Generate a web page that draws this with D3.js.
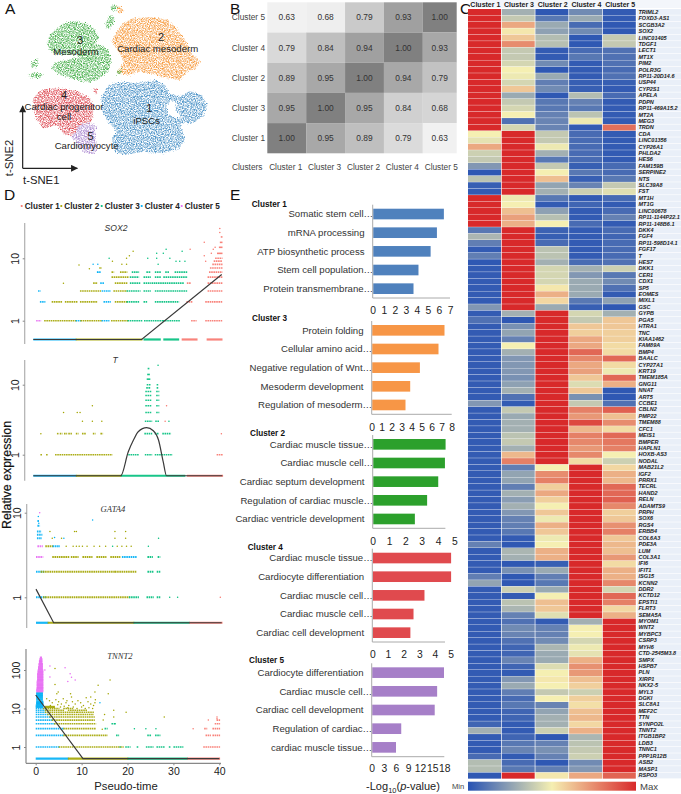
<!DOCTYPE html>
<html><head><meta charset="utf-8">
<script src="https://cdn.jsdelivr.net/npm/d3@7"></script>
<style>
html,body{margin:0;padding:0;background:#fff}
svg{display:block;font-family:"Liberation Sans",Arial,sans-serif}
</style></head><body>
<svg id="fig" width="681" height="794"></svg>
<script>
/* ---------- Panel A: t-SNE cluster outlines ---------- */
const tsneGreen=[[[168,88],[190,70],[225,62],[258,70],[285,90],[298,112],[285,132],[305,135],[325,150],[335,180],[325,212],[300,235],[272,248],[230,240],[180,225],[155,205],[165,188],[200,180],[240,172],[225,165],[190,165],[165,162],[148,150],[140,130],[150,105]],
 [[92,187],[115,175],[110,200],[95,205]],[[85,225],[105,215],[130,225],[115,235],[90,232]],[[315,72],[330,45],[345,55],[332,85],[320,85]],[[330,15],[350,18],[345,35],[335,30]],[[348,215],[362,208],[365,222],[350,225]]];
const tsneOrange=[[[345,100],[370,70],[400,55],[450,52],[500,58],[530,85],[555,120],[575,160],[600,185],[590,205],[560,215],[540,240],[500,235],[460,222],[420,215],[385,225],[350,220],[370,185],[355,150],[335,125]],[[350,18],[368,22],[370,36],[355,42]]];
const tsneBlue=[[[305,290],[325,255],[365,245],[410,250],[465,240],[495,255],[510,280],[540,290],[570,272],[605,285],[622,315],[610,350],[570,372],[545,365],[545,390],[555,415],[540,445],[490,460],[430,455],[375,465],[345,455],[335,415],[350,395],[320,360],[305,325]],
 [[512,300],[530,305],[526,328],[545,350],[535,358],[505,342],[498,322]]];
const tsneRed=[[[100,295],[125,268],[175,265],[230,272],[270,295],[282,320],[275,365],[240,375],[215,410],[190,400],[170,375],[130,385],[110,360],[100,330]],[[275,265],[295,265],[288,285]]];
const tsnePurple=[[[240,375],[265,368],[290,378],[285,410],[295,445],[280,462],[255,458],[235,440],[215,412]]];
const tsneNotes=[["3",240,120,11],["Mesoderm",228,155,9.6],["2",483,112,11],["Cardiac mesoderm",473,146,9.6],["4",192,285,11],["Cardiac progenitor",192,320,9.6],["cell",192,350,9.6],["1",448,325,11],["iPSCs",440,362,9.6],["5",272,407,11],["Cardiomyocyte",260,438,9.6]];

/* ---------- Panel B: correlation ---------- */
const corrRows=["Cluster 5","Cluster 4","Cluster 2","Cluster 3","Cluster 1"];
const corrCols=["Cluster 1","Cluster 3","Cluster 2","Cluster 4","Cluster 5"];
const corrValues=[[0.63,0.68,0.79,0.93,1.00],[0.79,0.84,0.94,1.00,0.93],[0.89,0.95,1.00,0.94,0.79],[0.95,1.00,0.95,0.84,0.68],[1.00,0.95,0.89,0.79,0.63]];
const corrShade=[[0.62,0.64,0.85,0.96,1],[0.79,0.89,0.96,1,0.95],[0.89,0.95,1,0.95,0.88],[0.95,1,0.95,0.83,0.81],[1,0.95,0.89,0.78,0.62]];

/* ---------- Panel C: heatmap ---------- */
const heatCols=["Cluster 1","Cluster 3","Cluster 2","Cluster 4","Cluster 5"];
const geneLabels=["TRIML2","FOXD3-AS1","SCGB3A2","SOX2","LINC01405","TDGF1","LECT1","MT1X","PIM2","POLR3G","RP11-20D14.6","USP44","CYP2S1","APELA","PDPN","RP11-469A15.2","MT2A","MEG3","TRDN","CDA","LINC01356","CYP26A1","PHLDA2","HES6","FAM159B","SERPINE2","NTS","SLC39A8","FST","MT1H","MT1G","LINC00678","RP11-1144P22.1","RP11-148B6.1","DKK4","FGF4","RP11-598D14.1","FGF17","T","HES7","DKK1","CER1","CDX1","SP5","EOMES","MIXL1","GSC","GYPB","PGA5","HTRA1","TNC","KIAA1462","FAM89A","BMP4","BAALC","CYP27A1","KRT19","TMEM185A","GNG11","NNAT","ART5","CCBE1","CBLN2","PMP22","TMEM88","CFC1","MEIS1","BMPER","HAPLN1","HOXB-AS3","NODAL","MAB21L2","IGF2","PRRX1","TECRL","HAND2","RELN","ADAMTS9","PRPH","SOX6","RGS4","ERBB4","COL6A3","PDE3A","LUM","COL3A1","IFI6","IFIT1","ISG15","KCNN2","DDR2","KCTD12","EPSTI1","FLRT3","SEMA5A","MYOM1","WNT2","MYBPC3","CSRP3","MYH6","CTD-2545M3.8","SMPX","HSPB7","PLN","XIRP1","NKX2-5","MYL3","DGKI","SLC8A1","MEF2C","TTN","SYNPO2L","TNNT2","ITGB1BP2","LDB3","TNNC1","PPP1R12B","ASB2","MASP1","RSPO3"];
const heatValues=[
[100,30,2,18,3],[100,38,12,28,3],[100,68,28,8,2],[100,52,25,18,2],[100,60,34,2,38],[100,75,35,2,38],[100,38,3,8,10],[100,38,3,12,10],[100,42,18,3,10],[100,50,2,3,8],[100,48,28,3,10],[100,42,14,4,4],[100,60,18,4,3],[100,28,2,34,8],[100,38,12,15,3],[100,42,12,12,3],[100,50,15,36,3],[100,10,16,48,3],[100,42,16,3,82],
[50,100,38,8,3],[46,100,38,8,3],[68,100,48,8,3],[40,100,30,8,3],[38,100,12,8,3],[22,100,38,4,8],[2,100,50,12,8],[36,100,62,4,12],[4,100,26,16,38],[3,100,30,40,45],
[100,48,12,3,8],[100,50,3,6,3],[100,62,25,3,8],[100,70,35,3,15],[100,66,50,8,3],
[12,100,5,3,8],[32,100,4,3,6],[14,100,8,3,8],[3,100,36,3,8],[14,100,36,3,8],[2,100,30,8,10],[3,100,42,30,40],[3,100,42,22,12],[3,100,42,28,18],[3,100,52,28,10],[3,100,66,28,3],[3,100,56,12,25],[22,100,28,4,2],
[3,30,100,42,30],[10,2,100,38,60],[3,20,100,60,60],[3,26,100,58,58],[3,15,100,68,58],[3,50,100,68,55],[3,30,100,84,55],[3,22,100,76,84],[3,22,100,68,55],[3,22,100,70,48],[3,20,100,60,84],[3,25,100,44,66],[3,30,100,60,2],
[3,10,100,20,2],[22,3,100,38,10],[3,38,100,78,86],[3,28,100,72,62],[3,30,100,92,75],[3,30,100,64,55],[3,36,100,78,84],[3,38,100,76,80],[3,30,100,72,78],[3,64,100,76,50],[3,78,100,55,40],
[3,14,50,100,56],[3,26,75,100,66],[3,26,78,100,64],[3,14,58,100,84],[3,30,68,100,84],[3,24,58,100,86],[3,30,50,100,76],[3,22,60,100,58],[3,15,48,100,60],[3,14,66,100,74],[3,12,60,100,78],[3,3,48,100,60],[15,2,50,100,64],[3,32,66,100,62],[3,30,66,100,72],[3,2,4,100,55],[3,20,28,100,66],[14,2,14,100,66],[26,2,12,100,76],[3,40,28,100,42],
[3,3,50,100,84],[3,36,62,100,78],[3,32,60,100,56],[3,15,45,100,66],
[3,10,3,30,100],[3,18,15,50,100],[3,16,15,50,100],[3,10,18,42,100],[3,6,32,48,100],[3,6,28,46,100],[3,16,28,66,100],[3,6,44,74,100],[3,3,50,72,100],[3,22,52,62,100],[3,28,50,58,100],[3,14,38,40,100],[3,8,50,58,100],[3,12,16,54,100],[3,6,26,62,100],[3,6,30,64,100],[6,3,30,56,100],[30,3,40,66,100],[3,6,2,32,100],[3,12,15,36,100],[3,16,20,38,100],[8,3,15,40,100],[34,8,2,18,100],[34,12,14,22,100],[2,100,52,68,85]];

/* ---------- Panel D: expression over pseudo-time. strips = [value, tFrom, tTo, cluster]; points = [t, value, cluster] ---------- */
const dClusters=["Cluster 1","Cluster 2","Cluster 3","Cluster 4","Cluster 5"];
const sox2Strips=[[.5,0,9,3],[.5,9,23,1],[.5,23.4,26.9,2],[.5,27.6,30.8,2],[.5,31.5,34.7,0],[.5,36.8,40,0],
[1,.6,1.5,4],[1,2.3,9,1],[1,9,10,3],[1,10,14.5,1],[1,14.5,16,3],[1,16.5,20,1],[1,20,23,2],[1,23.5,27.5,2],[1,27.5,31,2],[1,33.5,34.5,0],[1,36.5,40,0],
[2,1.4,2.4,3],[2,3.9,6,1],[2,6.7,9.2,1],[2,9.9,13.5,1],[2,14.9,16.3,3],[2,17.3,19.8,1],[2,19.8,22.3,2],[2,23.4,24,2],[2,25.8,30.8,2],[2,32.5,33.6,0],[2,36.5,40,0],
[3,1,1.4,3],[3,9.9,14.2,1],[3,14.5,16.3,3],[3,17,19.8,1],[3,19.8,22.6,2],[3,23.4,24.8,2],[3,25.8,32.5,2],[3,37,40,0],
[4,12.7,13.5,1],[4,14.2,14.9,3],[4,17.3,19.8,1],[4,20.5,22.6,2],[4,23.4,24.8,2],[4,25.1,25.8,2],[4,26,31.9,2],[4,32.6,33.3,0],[4,37,40,0],
[5,16.6,20.2,1],[5,20.5,22.3,2],[5,23.4,24.8,2],[5,25.8,26.9,2],[5,27.6,32.6,2],[5,37,40,0],
[6,13.5,14.2,3],[6,16.6,17,1],[6,18.4,19.8,1],[6,20.9,22.3,2],[6,24,24.8,2],[6,25.8,26.9,2],[6,28,28.7,2],[6,30,32.6,2],[6,37.3,40,0],
[7,14,14.4,1],[7,37.5,40,0],[8,38,40,0],[9,38.3,40,0],[10,38.6,40,0],[12,39,40,0],[15,39.4,40,0],[18,39.6,40,0],[22,39.8,40,0]];
const sox2Points=[[6.4,4,1],[9.7,7.8,1],[11.9,6.8,1],[12.7,8,3],[13.7,8,3],[13.7,6,3],[16.1,10,2],[16.8,9,1],[18.8,8,1],[19.8,8,1],[19.8,10,1],[20.4,11,1],[21.2,13,1],[24.3,10,2],[26.2,12,2],[26.2,10,2],[27.6,12,2],[28.2,14,2],[26.5,8,2],[29,10,2],[30.3,9,2],[31.1,9,2],[32.2,9,2],[31.6,13,2],[33.3,14,0],[36.3,18,0],[36.3,11,0],[38.2,14,0],[37.8,12,0],[38.6,15,0],[36.6,9,0],[39.6,30,0],[39.6,26,0]];
const tStrips=[[.5,0,9,3],[.5,9,18.5,1],[.5,18.5,32,2],[.5,32.5,40,0],
[1,1.5,1.7,1],[1,2.7,3,1],[1,4.6,16.6,1],[1,20.1,22.2,2],[1,23.6,25,2],[1,25.7,29.3,2],[1,38.8,40,0],
[2,5,5.2,1],[2,5.6,6,1],[2,6.5,7,1],[2,7.4,8,1],[2,9,9.4,1],[2,10.3,11,1],[2,12.6,13,1],[2,14.2,14.6,1],[2,23.5,25,2],[2,25.7,26.4,2],[2,27.3,29,2],
[3,23.6,25,2],[3,25.8,26.5,2],[4,23.7,24.9,2],[4,26,26.5,2],[5,23.7,24.9,2],[5,26,26.5,2],[6,23.7,24.9,2],[6,26,26.5,2],[7,23.7,24.9,2],[7,26,26.5,2],[8,23.7,24.9,2],[8,26,26.5,2],[9,23.9,24.7,2],[9,26.1,26.4,2],[10,24,24.7,2],[10,26.1,26.4,2],[12,24,24.6,2],[14,24.1,24.5,2],[17,24.2,24.4,2]];
const tPoints=[[1.6,2,1],[39.8,2,0],[10.4,3,1],[12.5,3,1],[14.5,3,1],[27.9,3,0],[28.7,3,2],[6.4,4,1],[9.3,4,1],[9.9,4,1],[12.5,5,1],[28.2,5,0],[26.4,19,2]];
const gata4Strips=[[.5,0,2.5,3],[.5,2.5,21,1],[.5,21,33,2],[.5,33,40,0],
[1,0,2,3],[1,1.5,20,1],[1,20,22,2],[1,23.8,25.2,2],[1,26,26.6,2],
[2,0,1.6,3],[2,1,17,1],[2,17,21.5,1],[2,24,25.2,2],[2,26,26.6,2],
[3,0,1.4,4],[3,3.5,7,1],[3,7.5,9,1],[3,10,12,1],[3,13,15,1],[3,16,18,1],[3,18.5,21.5,3],[3,24,25,2],[3,26.2,26.6,2],
[4,.3,1.3,4],[4,2,3.5,1],[4,3.6,5,3],[5.5,.2,1.2,3],[5,.2,1.1,3],[6,.2,1,3],[7,.3,.7,3],[8,.3,.6,3]];
const gata4Points=[[.8,10,4],[.5,9,3],[.6,7.5,3],[3,6,1],[8.3,6,1],[8.7,6,1],[17,6,1],[19.3,6,1],[17,5,1],[19.3,5,1],[3.5,5,1],[4,5.1,3],[5.5,5,1],[6,5,3],[12.2,8.2,3],[6.5,4,1],[8,4,1],[8.7,4,1],[9.3,4,1],[10,4,1],[11,4,1],[12.5,4,1],[13.7,4,1],[15,4,1],[16.5,4,2],[17.5,4,1],[18.5,4,1],[19.5,4,1],[20.5,4,1],[24.2,4,2],[26.4,5,2],[28.8,1,2],[30.5,1,2],[39.7,1,0]];
const tnnt2Strips=[[.5,0,7,3],[.5,7,20,1],[.5,20,33,2],[.5,33,40,0],
[1,0,5,3],[1,5,19,1],[1,19.5,20.5,2],[1,22,22.3,2],[1,24,25.5,2],[1,26.3,28,2],[1,29,29.3,2],[1,30,32,2],[1,36.5,40,0],
[2,0,6,3],[2,6,15.5,1],[2,17.5,18,2],[2,24.3,25,2],[2,26,27,2],[2,37,38,0],[2,38.5,40,0],
[3,0,6,3],[3,6,13,1],[3,15,15.5,2],[3,36.7,37.2,0],[3,38.5,40,0],
[4,0,4,3],[4,4,13,1],[4,16.5,17.3,2],[4,39,40,0],[5,0,3.5,3],[5,3.5,12.7,1],[5,39.4,40,0],[6,0,3,3],[6,3,12.7,1],[7,0,2.5,3],[7,2.5,12.5,1],
[8,0,2,3],[8,2,9,1],[8,9,12.5,1],[9,0,2,3],[9,2,6,1],[9,7,11,1],[10,0,1.6,3],[10,1.6,5,1],[10,6,8,1],
[11,0,1.5,3],[11,2,4,1],[12,0,1.5,3],[13,.1,1.5,3],[14,.1,1.5,3],[15,.1,1.5,3],[17,.1,1.4,3],[19,.1,1.4,3],[21,.1,1.4,3],[23,.1,1.4,3],[25,.1,1.4,3],
[28,.1,1.5,4],[31,.1,1.5,4],[34,.2,1.5,4],[37,.2,1.5,4],[41,.2,1.5,4],[45,.2,1.5,4],[50,.2,1.5,4],[55,.3,1.5,4],[60,.3,1.5,4],[66,.3,1.5,4],[73,.3,1.5,4],[80,.3,1.5,4],[88,.4,1.5,4],[97,.4,1.5,4],[107,.5,1.4,4],[118,.5,1.4,4],[130,.6,1.4,4],[143,.6,1.4,4],[157,.7,1.3,4],[172,.7,1.3,4],[190,.8,1.3,4],[210,.9,1.2,4]];
const tnnt2Points=[[3.1,127,4],[2,100,4],[3.1,66,4],[4.2,110,1],[6.4,115,4],[7.5,80,4],[7.8,65,4],[8.6,55,4],[7,50,4],[13.6,40,1],[16.2,55,1],[15.8,24,1],[12.9,27,1],[4.2,42,1],[4.9,27,1],[4.6,24,1],[2.4,18,1],[6.8,16,1],[7.8,20,1],[7.6,24,1],[11,19,1],[12,20,1],[13,17,1],[3,16,1],[3.6,14,1],[4.4,17,1],[5,15,1],[5.6,13,1],[6,18,1],[6.6,14,1],[7.2,12,1],[8,15,1],[8.6,13,1],[9.2,16,1],[9.8,14,1],[10.4,12,1],[11.4,15,1],[12,13,1],[12.6,12,1],[3.2,12,1],[4,11,1],[4.8,12.5,1],[5.4,11,1],[6.2,11.5,1],[7,10.5,1],[8.2,11,1],[9,10,1],[10,11,1],[10.8,10,1],[11.6,10.5,1],[12.4,10,1],[12.9,14,1],[14,14,3],[17,9,1],[19.7,8,1],[17,6,1],[28,6,1],[15,7,1],[14.7,5,1],[17.3,4,2],[21.5,3,2],[24,3,2],[26.2,3,2],[34.3,3,0],[37.6,5,0],[39.5,6,0],[39.5,5.4,0],[18.4,1,2],[14.5,2.9,1]];
const sox2Line=[[0,.5],[23,.5],[40,5.5]];
const tLine=[[0,.5],[18.5,.5],[20.1,1.1],[21.2,1.62],[22.2,2.13],[24,2.43],[25.4,2.2],[26.5,1.62],[27.5,.79],[28.2,.5],[40,.5]];
const gata4Line=[[0,1.25],[3.8,.5],[40,.5]];
const tnnt2Line=[[0,22.4],[10.3,.5],[40,.5]];

/* ---------- Panel E: enrichment ---------- */
const e1Terms=["Somatic stem cell…","mRNA processing","ATP biosynthetic process","Stem cell population…","Protein transmembrane…"], e1Values=[6.4,5.77,5.2,4.1,3.65], e1Ticks=[0,1,2,3,4,5,6,7];
const e3Terms=["Protein folding","Cellular amino acid…","Negative regulation of Wnt…","Mesoderm development","Regulation of mesoderm…"], e3Values=[7.23,6.63,4.77,3.8,3.33], e3Ticks=[0,1,2,3,4,5,6,7,8];
const e2Terms=["Cardiac muscle tissue…","Cardiac muscle cell…","Cardiac septum development","Regulation of cardiac muscle…","Cardiac ventricle development"], e2Values=[4.43,4.39,3.98,3.3,2.55], e2Ticks=[0,1,2,3,4,5];
const e4Terms=["Cardiac muscle tissue…","Cardiocyte differentiation","Cardiac muscle cell…","Cardiac muscle cell…","Cardiac cell development"], e4Values=[5,5,3.3,2.6,2.4], e4Ticks=[0,1,2,3,4,5];
const e5Terms=["Cardiocyte differentiation","Cardiac muscle cell…","Cardiac cell development","Regulation of cardiac…","cardiac muscle tissue…"], e5Values=[17.8,16.1,15.5,7.2,5.9], e5Ticks=[0,3,6,9,12,15,18];

/* ================= drawing ================= */
const svg=d3.select("#fig");
const defs=svg.append("defs");
const TXT="#222";
function letter(s,x,y){svg.append("text").attr("x",x).attr("y",y).attr("font-size",15.5).attr("fill","#111").text(s);}
letter("A",5,14);letter("B",230,14);letter("C",460,14);letter("D",4,200);letter("E",230,200);

/* ---- A ---- */
const f=defs.append("filter").attr("id","mottle").attr("x","-5%").attr("y","-5%").attr("width","110%").attr("height","110%").attr("color-interpolation-filters","sRGB");
f.append("feTurbulence").attr("type","fractalNoise").attr("baseFrequency",0.85).attr("numOctaves",2).attr("seed",7).attr("result","n");
f.append("feDisplacementMap").attr("in","SourceGraphic").attr("in2","n").attr("scale",5).attr("xChannelSelector","G").attr("yChannelSelector","B").attr("result","d");
f.append("feColorMatrix").attr("in","n").attr("type","matrix").attr("values","0 0 0 0 0  0 0 0 0 0  0 0 0 0 0  2.6 0 0 0 -0.85").attr("result","a");
f.append("feComposite").attr("in","d").attr("in2","a").attr("operator","in").attr("result","c");
f.append("feGaussianBlur").attr("in","c").attr("stdDeviation",0.35);
const ax=d3.scaleLinear().domain([0,690]).range([0,230]), ay=d3.scaleLinear().domain([0,600]).range([0,200]);
const outline=d3.line().x(d=>ax(d[0])).y(d=>ay(d[1])).curve(d3.curveLinearClosed);
const gA=svg.append("g");
[[tsneBlue,"#3a88c2"],[tsneOrange,"#f6902a"],[tsneGreen,"#36a83a"],[tsneRed,"#da3a44"],[tsnePurple,"#a27ccb"]].forEach(([polys,c])=>{
  gA.append("path").attr("d",polys.map(p=>outline(p)).join("")).attr("fill",c).attr("fill-rule","evenodd").attr("filter","url(#mottle)").attr("opacity",.88);
});
gA.selectAll("text.note").data(tsneNotes).join("text").attr("x",d=>ax(d[1])).attr("y",d=>ay(d[2])).attr("dy","0.35em").attr("text-anchor","middle").attr("font-size",d=>d[3]).attr("fill",TXT).text(d=>d[0]);
defs.append("marker").attr("id","arr").attr("viewBox","0 0 10 10").attr("refX",9).attr("refY",5).attr("markerWidth",9).attr("markerHeight",7).attr("markerUnits","userSpaceOnUse").attr("orient","auto").append("path").attr("d","M0,0L10,5L0,10Z").attr("fill","#222");
gA.append("line").attr("x1",ax(68)).attr("y1",ay(505)).attr("x2",ax(68)).attr("y2",ay(318)).attr("stroke","#222").attr("stroke-width",1.2).attr("marker-end","url(#arr)");
gA.append("line").attr("x1",ax(68)).attr("y1",ay(505)).attr("x2",ax(232)).attr("y2",ay(505)).attr("stroke","#222").attr("stroke-width",1.2).attr("marker-end","url(#arr)");
svg.append("text").attr("x",23).attr("y",184).attr("font-size",11.3).attr("fill",TXT).text("t-SNE1");
svg.append("text").attr("transform","translate(13,158) rotate(-90)").attr("text-anchor","middle").attr("font-size",11.3).attr("fill",TXT).text("t-SNE2");

/* ---- B ---- */
const bx=d3.scaleBand().domain(corrCols).range([267.3,461.7]);
const by=d3.scaleBand().domain(corrRows).range([2.3,153.3]);
const bRight=456.7;
const bShade=d3.scaleLinear().domain([.6,.8,.9,.95,1]).range(["#f4f4f4","#d8d8d8","#bcbcbc","#a8a8a8","#808080"]);
const gB=svg.append("g");
corrRows.forEach((r,i)=>corrCols.forEach((c,j)=>{
  const x0=bx(c), x1=Math.min(bRight,x0+bx.bandwidth());
  gB.append("rect").attr("x",x0).attr("y",by(r)).attr("width",x1-x0).attr("height",by.bandwidth()).attr("fill",bShade(corrShade[i][j]));
  gB.append("text").attr("x",(x0+x1)/2).attr("y",by(r)+by.bandwidth()/2).attr("dy","0.35em").attr("text-anchor","middle").attr("font-size",8.4).attr("fill","#333").text(corrValues[i][j].toFixed(2));
}));
gB.selectAll("text.r").data(corrRows).join("text").attr("x",265).attr("y",d=>by(d)+by.bandwidth()/2).attr("dy","0.35em").attr("text-anchor","end").attr("font-size",8.3).attr("fill","#444").text(d=>d);
gB.selectAll("text.c").data(corrCols).join("text").attr("x",d=>Math.min(bx(d)+bx.bandwidth()/2-1,441.7)).attr("y",167).attr("dy","0.35em").attr("text-anchor","middle").attr("font-size",8.3).attr("fill","#444").text(d=>d);
gB.append("text").attr("x",232).attr("y",167).attr("dy","0.35em").attr("font-size",8.3).attr("fill","#444").text("Clusters");

/* ---- C ---- */
const hx=d3.scaleBand().domain(heatCols).range([468,636.5]);
const hy=d3.scaleBand().domain(d3.range(heatValues.length)).range([9,779]);
const hc=d3.scaleLinear().domain([0,50,100]).range(["#2752b3","#f5efb2","#d8292a"]);
const gC=svg.append("g");
gC.append("rect").attr("x",470).attr("y",0).attr("width",211).attr("height",8).attr("fill","#f3f6fb");
const gl=d3.scalePoint().domain(d3.range(geneLabels.length)).range([12,775]);
gC.selectAll("rect.lb").data(d3.range(heatValues.length)).join("rect").attr("x",637).attr("width",44).attr("y",i=>hy(i)).attr("height",hy.bandwidth()-.6).attr("fill","#e9eff8");
heatValues.forEach((row,i)=>row.forEach((v,j)=>{
  gC.append("rect").attr("x",hx(heatCols[j])).attr("y",hy(i)).attr("width",hx.bandwidth()-.7).attr("height",hy.bandwidth()-.35).attr("fill",hc(v));
}));
gC.selectAll("text.g").data(geneLabels).join("text").attr("x",638.5).attr("y",(d,i)=>gl(i)).attr("dy","0.35em").attr("font-size",5.5).attr("font-weight","bold").attr("font-style","italic").attr("fill","#222").text(d=>d);
gC.selectAll("text.h").data(heatCols).join("text").attr("x",d=>hx(d)+hx.bandwidth()/2+.5).attr("y",4.5).attr("dy","0.35em").attr("text-anchor","middle").attr("font-size",7).attr("font-weight","bold").attr("fill","#222").text(d=>d);
const lg=defs.append("linearGradient").attr("id","hg");
lg.selectAll("stop").data([0,25,50,75,100]).join("stop").attr("offset",d=>d+"%").attr("stop-color",d=>hc(d));
gC.append("rect").attr("x",468).attr("y",781.7).attr("width",168).attr("height",9).attr("fill","url(#hg)");
gC.append("text").attr("x",452).attr("y",789).attr("font-size",7.6).attr("fill","#444").text("Min");
gC.append("text").attr("x",640).attr("y",790).attr("font-size",9.6).attr("fill","#444").text("Max");

/* ---- D ---- */
const dColors=["#F8766D","#A3A500","#00BF7D","#00B0F6","#E76BF3"];
const legendX=[24.7,64.3,104.7,144.7,184.7];
dClusters.forEach((c,i)=>{
  svg.append("circle").attr("cx",legendX[i]-3).attr("cy",206).attr("r",1.1).attr("fill",dColors[i]);
  svg.append("text").attr("x",legendX[i]).attr("y",206).attr("dy","0.35em").attr("font-size",8.2).attr("font-weight","bold").attr("fill","#222").text(c);
});
function genePanel(o){
  const x=d3.scaleLinear().domain([0,40]).range(o.xr);
  const y=d3.scaleLog().domain(o.yd).range(o.yr);
  const g=svg.append("g");
  const solid=d=>d[0]===.5||d[0]>=11;
  g.selectAll("line.s").data(o.strips).join("line")
   .attr("x1",d=>x(d[1])).attr("x2",d=>x(d[2])+.8).attr("y1",d=>y(d[0])).attr("y2",d=>y(d[0]))
   .attr("stroke",d=>dColors[d[3]]).attr("stroke-width",d=>d[0]===.5?2.2:(d[0]>=11?(o.dense||1.6):(o.sw||1.6))).attr("stroke-dasharray",d=>solid(d)?null:"1.6 .6").attr("opacity",.9);
  g.selectAll("circle").data(o.points).join("circle").attr("cx",d=>x(d[0])).attr("cy",d=>y(d[1])).attr("r",.75).attr("fill",d=>dColors[d[2]]);
  const lineGen=d3.line().x(d=>x(d[0])).y(d=>y(d[1])).curve(o.curve||d3.curveLinear);
  g.append("path").attr("d",lineGen(o.line)).attr("fill","none").attr("stroke","#3a3a3a").attr("stroke-width",1.2);
  const ya=g.append("g").attr("transform",`translate(${o.ax},0)`).call(d3.axisLeft(y).tickValues(o.ticks).tickFormat(d3.format("d")).tickSize(2));
  ya.select(".domain").attr("d",`M0,${o.ay[0]}V${o.ay[1]}`).attr("stroke",o.acol||"#b0b0b0").attr("stroke-width",1.2);
  ya.selectAll(".tick line").attr("stroke","#888");
  ya.selectAll(".tick text").attr("font-size",10.5).attr("font-family","Liberation Sans").attr("fill","#222").attr("transform","rotate(-90)").attr("x",0).attr("y",-6).attr("text-anchor","middle").attr("dy",0);
  g.append("text").attr("x",o.title[1]).attr("y",o.title[2]).attr("dy","0.35em").attr("text-anchor","middle").attr("font-size",8.6).attr("font-style","italic").attr("font-family",o.title[3]).attr("fill","#333").text(o.title[0]);
  return {g,x,y};
}
const sansI="Liberation Sans", serifI="Liberation Serif";
genePanel({strips:sox2Strips,points:sox2Points,line:sox2Line,xr:[33.3,221.7],yd:[1,10],yr:[320.7,258.3],ticks:[1,10],ax:24.7,ay:[223,344],title:["SOX2",116,228,sansI]});
genePanel({strips:tStrips,points:tPoints,line:tLine,curve:d3.curveMonotoneX,xr:[33.3,222.3],yd:[1,10],yr:[454.7,384.7],ticks:[1,10],ax:24.7,ay:[360,480.7],title:["T",115,360,sansI]});
genePanel({strips:gata4Strips,points:gata4Points,line:gata4Line,sw:2,xr:[36,221.7],yd:[1,10],yr:[597.3,512.7],ticks:[1,10],ax:26.7,ay:[504,628],title:["GATA4",113,509,serifI]});
const pT=genePanel({strips:tnnt2Strips,points:tnnt2Points,line:tnnt2Line,dense:2.2,xr:[35.7,219.3],yd:[1,100],yr:[747,670],ticks:[1,10,100],ax:26,ay:[649,763.3],acol:"#888",title:["TNNT2",120,656,serifI]});
const xaT=pT.g.append("g").attr("transform","translate(0,763.3)").call(d3.axisBottom(pT.x).tickValues([0,10,20,30,40]).tickSize(2).tickPadding(2));
xaT.select(".domain").attr("d","M26,0H221").attr("stroke","#888").attr("stroke-width",1.2);
xaT.selectAll(".tick line").attr("stroke","#888");
xaT.selectAll(".tick text").attr("font-size",10.5).attr("font-family","Liberation Sans").attr("fill","#222");
svg.append("text").attr("x",126).attr("y",786).attr("dy","0.35em").attr("text-anchor","middle").attr("font-size",11.3).attr("fill",TXT).text("Pseudo-time");
svg.append("text").attr("transform","translate(11,475) rotate(-90)").attr("text-anchor","middle").attr("font-size",12.4).attr("stroke","#111").attr("stroke-width",.2).attr("fill","#111").text("Relative expression");

/* ---- E ---- */
function enrich(o){
  const x=d3.scaleLinear().domain([0,o.max]).range([o.x0,o.x0+o.w]);
  const y=d3.scaleBand().domain(d3.range(o.terms.length)).range([o.y0,o.y1]).paddingInner(.43).paddingOuter(.215);
  const g=svg.append("g");
  g.append("text").attr("x",o.tx).attr("y",o.ty).attr("dy","0.35em").attr("font-size",8.2).attr("font-weight","bold").attr("fill","#111").text(o.name);
  g.selectAll("rect").data(o.values).join("rect").attr("x",o.x0+.5).attr("y",(d,i)=>y(i)).attr("width",d=>x(d)-o.x0).attr("height",y.bandwidth()).attr("fill",o.color);
  g.selectAll("text.l").data(o.terms).join("text").attr("x",d=>d.endsWith("…")?o.x0+.5:o.x0-8.2).attr("y",(d,i)=>y(i)+y.bandwidth()/2).attr("dy","0.35em").attr("text-anchor","end").attr("font-size",9.6).attr("fill","#333").text(d=>d);
  const xa=g.append("g").attr("transform",`translate(0,${o.y1})`).call(d3.axisBottom(x).tickValues(o.ticks).tickFormat(d3.format("d")).tickSize(0).tickPadding(o.pad||9));
  xa.select(".domain").attr("d",`M${o.x0},0H${o.x0+o.axw}`).attr("stroke","#aaa").attr("stroke-width",1);
  xa.selectAll(".tick text").attr("font-size",10.3).attr("font-family","Liberation Sans").attr("fill","#222");
  g.append("line").attr("x1",o.x0).attr("x2",o.x0).attr("y1",o.y0).attr("y2",o.y1).attr("stroke","#aaa").attr("stroke-width",1);
}
enrich({name:"Cluster 1",tx:251.7,ty:204,terms:e1Terms,values:e1Values,ticks:e1Ticks,max:7,x0:372.7,w:77.3,axw:77.3,y0:204.7,y1:298,color:"#4f81bd"});
enrich({name:"Cluster 3",tx:252,ty:317.7,terms:e3Terms,values:e3Values,ticks:e3Ticks,max:8,x0:371.7,w:80,axw:80,y0:321,y1:414.3,color:"#f79646"});
enrich({name:"Cluster 2",tx:250,ty:433,terms:e2Terms,values:e2Values,ticks:e2Ticks,max:5,x0:372.7,w:81.7,axw:72.7,y0:435,y1:528.3,color:"#2ca02c"});
enrich({name:"Cluster 4",tx:247.7,ty:547,terms:e4Terms,values:e4Values,ticks:e4Ticks,max:5,x0:372.3,w:78.3,axw:72.7,y0:548.7,y1:642,color:"#e04a4e"});
enrich({name:"Cluster 5",tx:249,ty:660,terms:e5Terms,values:e5Values,ticks:e5Ticks,max:18,x0:371.7,w:72.6,axw:72.6,y0:663.3,y1:756.7,color:"#a67fc8",pad:8});
const et=svg.append("text").attr("x",403).attr("y",790).attr("text-anchor","middle").attr("font-size",11).attr("fill",TXT);
et.append("tspan").text("-Log");
et.append("tspan").attr("font-size",7.5).attr("dy",2.5).text("10");
et.append("tspan").attr("dy",-2.5).text("(");
et.append("tspan").attr("font-style","italic").text("p");
et.append("tspan").text("-value)");
</script>
</body></html>
